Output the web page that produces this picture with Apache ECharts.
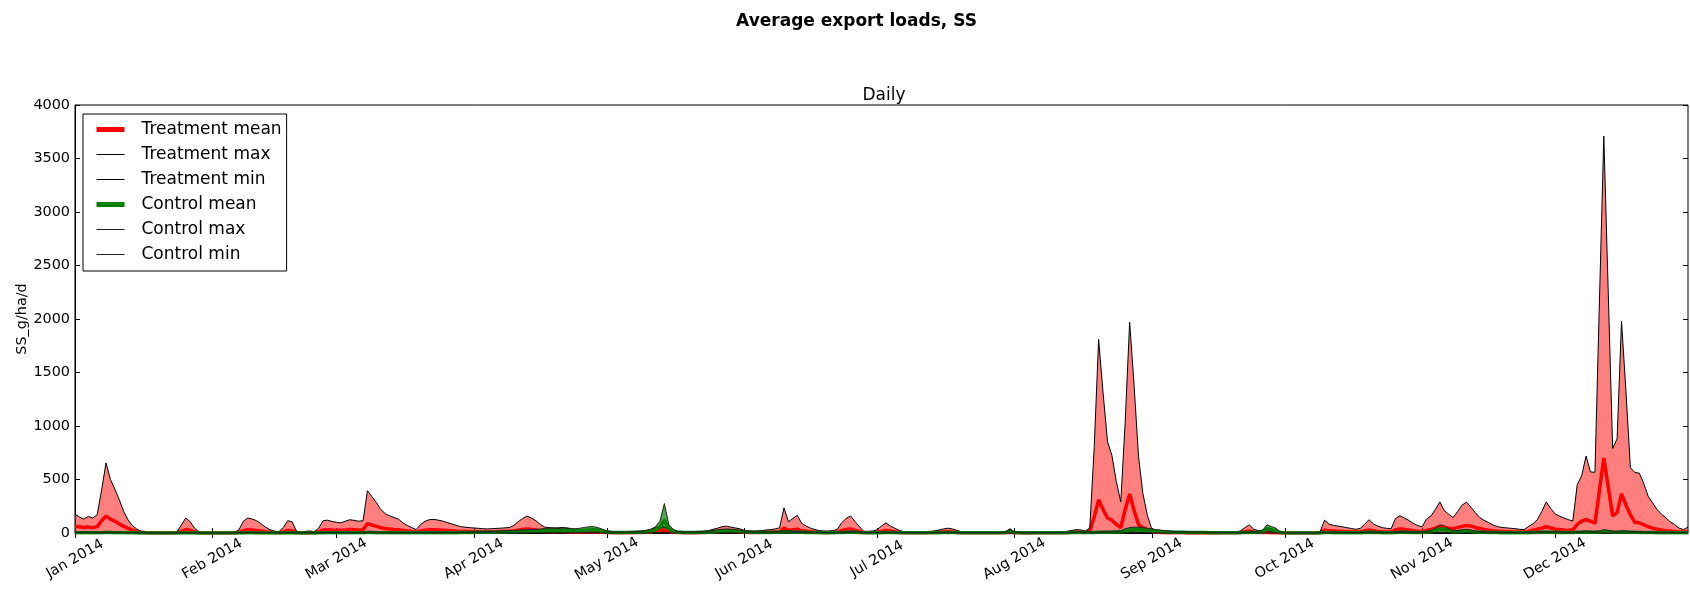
<!DOCTYPE html>
<html>
<head>
<meta charset="utf-8">
<script src="https://cdn.jsdelivr.net/npm/echarts@6.0.0/dist/echarts.min.js"></script>
<style>
  html, body { margin: 0; padding: 0; background: #fff; }
  #chart { width: 1690px; height: 589px; }
</style>
</head>
<body>
<div id="chart"></div>
<script>
// ---------------- DATA (daily values, 2014-01-01 .. 2014-12-31) ----------------
const MONTH_LABELS = ['Jan 2014','Feb 2014','Mar 2014','Apr 2014','May 2014','Jun 2014',
                      'Jul 2014','Aug 2014','Sep 2014','Oct 2014','Nov 2014','Dec 2014'];
const Y_TICKS = [0, 500, 1000, 1500, 2000, 2500, 3000, 3500, 4000];

const TMAX = [
  /*Jan*/175,150,130,155,140,170,400,655,500,410,310,200,120,68,35,15,5,2,0,0,0,0,0,10,75,140,105,45,8,0,0,
  /*Feb*/0,0,0,0,0,5,30,110,140,130,115,85,55,30,18,12,50,115,105,15,5,15,18,12,45,115,120,108,
  /*Mar*/100,95,110,124,118,110,115,395,340,285,220,181,160,145,130,95,70,50,32,80,110,125,127,120,111,98,85,72,60,54,50,
  /*Apr*/47,44,40,38,40,43,45,48,51,70,105,135,158,140,115,80,55,50,48,48,52,45,33,28,26,28,30,32,28,22,
  /*May*/15,8,6,7,9,10,12,14,18,25,35,50,60,55,35,20,12,10,10,10,11,12,15,22,35,45,58,64,55,47,40,
  /*Jun*/25,18,16,18,22,28,32,38,48,235,105,135,165,90,65,45,32,22,18,18,22,32,95,135,160,110,60,15,14,18,
  /*Jul*/30,65,95,65,45,25,12,10,9,9,10,11,14,19,28,38,45,38,24,12,9,8,7,7,6,6,6,7,8,12,40,
  /*Aug*/8,6,5,5,5,6,6,7,8,8,10,12,16,24,32,28,18,45,800,1810,1310,855,724,480,290,1045,1970,1380,715,365,165,
  /*Sep*/35,20,12,10,8,7,6,6,5,5,5,5,5,5,5,5,6,6,7,10,20,50,76,35,22,26,22,12,6,3,
  /*Oct*/2,2,2,2,2,2,3,3,15,120,82,72,65,57,50,42,35,42,80,124,85,65,50,44,39,136,161,140,118,90,70,
  /*Nov*/58,130,160,220,291,210,175,145,200,260,288,242,190,145,118,97,75,60,52,48,44,40,35,32,60,85,125,200,291,230,
  /*Dec*/178,158,140,125,112,450,535,720,570,568,2140,3710,2250,790,880,1980,1320,610,565,560,465,344,282,220,176,142,104,79,45,33,55
];

const TMEAN = [
  /*Jan*/60,58,52,55,50,60,115,158,130,110,85,62,42,26,14,6,2,1,0,0,0,0,0,3,18,32,25,10,2,0,0,
  /*Feb*/0,0,0,0,0,1,6,22,30,28,24,18,12,7,4,3,10,25,22,4,1,3,4,3,12,28,30,27,
  /*Mar*/26,25,28,32,30,28,30,88,75,62,50,42,37,33,30,24,18,13,9,20,26,30,30,28,26,23,20,17,15,14,13,
  /*Apr*/12,11,10,10,11,12,13,14,15,18,25,32,38,34,28,20,15,13,12,13,14,12,9,8,8,9,10,10,9,7,
  /*May*/5,2,2,2,2,3,3,4,5,7,10,18,30,25,12,6,4,3,3,3,3,3,4,6,10,13,16,18,15,13,11,
  /*Jun*/7,5,4,5,6,7,8,10,12,45,25,30,35,22,16,12,8,6,5,5,6,8,22,32,38,26,15,4,4,5,
  /*Jul*/7,15,24,18,12,7,3,3,2,2,3,3,4,5,7,9,11,9,6,3,2,2,2,2,2,2,2,2,2,3,8,
  /*Aug*/2,2,1,1,1,2,2,2,2,2,3,3,4,6,8,7,5,20,150,310,220,140,120,80,49,220,365,210,80,47,30,
  /*Sep*/15,8,5,3,2,2,2,2,1,1,1,1,1,1,1,1,2,2,2,3,5,12,18,8,5,6,5,3,2,1,
  /*Oct*/1,1,1,1,1,1,1,1,4,28,20,18,16,14,12,10,9,10,18,28,20,15,12,10,9,30,38,34,28,21,16,
  /*Nov*/13,25,33,45,62,55,45,40,50,62,70,65,52,42,32,25,20,16,14,12,11,10,9,9,15,25,35,45,58,48,
  /*Dec*/36,32,28,26,30,80,110,125,110,92,390,700,430,160,190,365,260,170,100,95,78,58,46,36,28,22,18,14,10,9,11
];

const TMIN = [
  /*Jan*/10,8,6,6,5,6,10,15,12,10,8,5,3,2,1,0,0,0,0,0,0,0,0,0,0,0,0,0,0,0,0,
  /*Feb*/0,0,0,0,0,0,0,0,2,2,1,1,0,0,0,0,0,1,1,0,0,0,0,0,0,1,2,2,
  /*Mar*/2,2,2,3,3,2,2,8,7,5,4,3,3,2,2,2,1,1,0,1,2,2,2,2,2,1,1,1,1,1,1,
  /*Apr*/1,1,1,1,1,1,1,1,1,1,1,2,2,2,1,1,1,1,1,1,1,1,0,0,0,1,1,1,1,0,
  /*May*/0,0,0,0,0,0,0,0,0,0,0,1,2,1,0,0,0,0,0,0,0,0,0,0,0,1,1,1,1,1,0,
  /*Jun*/0,0,0,0,0,0,0,0,0,2,1,1,1,1,0,0,0,0,0,0,0,0,1,1,1,1,0,0,0,0,
  /*Jul*/0,0,1,0,0,0,0,0,0,0,0,0,0,0,0,0,0,0,0,0,0,0,0,0,0,0,0,0,0,0,0,
  /*Aug*/0,0,0,0,0,0,0,0,0,0,0,0,0,0,0,0,0,0,5,10,8,6,6,5,4,8,12,8,5,3,1,
  /*Sep*/1,0,0,0,0,0,0,0,0,0,0,0,0,0,0,0,0,0,0,0,0,0,1,0,0,0,0,0,0,0,
  /*Oct*/0,0,0,0,0,0,0,0,0,1,1,1,1,1,1,0,0,0,0,1,1,1,0,0,0,1,1,1,1,1,1,
  /*Nov*/1,1,1,2,3,2,2,1,2,3,3,2,2,1,1,1,1,0,0,0,0,0,0,0,0,1,1,2,3,2,
  /*Dec*/2,2,1,1,1,5,6,8,6,5,15,25,15,8,8,12,8,5,4,4,3,2,2,1,1,1,1,0,0,0,0
];

const CMAX = [
  /*Jan*/8,8,7,7,6,6,8,10,9,8,7,6,5,4,3,2,2,1,1,1,1,1,1,1,2,3,3,2,1,1,1,
  /*Feb*/1,1,1,1,1,1,2,3,4,4,3,3,2,2,2,2,3,3,3,2,2,2,2,2,3,4,4,4,
  /*Mar*/4,4,4,5,5,5,5,10,9,8,7,6,6,5,5,5,4,4,4,5,6,6,6,6,6,6,6,7,8,9,10,
  /*Apr*/11,12,13,14,15,16,18,20,22,24,26,28,30,32,34,38,42,45,44,42,45,48,42,40,45,52,58,60,50,36,
  /*May*/20,12,9,8,9,10,12,15,18,25,35,60,110,275,80,35,15,12,11,11,12,13,15,18,24,30,35,38,36,32,26,
  /*Jun*/20,18,15,12,10,10,11,12,14,20,18,16,15,13,11,9,8,7,6,6,7,8,10,12,14,12,9,7,6,6,
  /*Jul*/6,7,8,8,7,6,5,5,5,5,5,5,5,6,7,8,9,8,7,6,5,5,5,5,5,5,5,5,6,10,35,
  /*Aug*/8,6,5,5,5,5,5,5,5,5,6,6,7,8,9,9,9,10,10,12,14,15,16,18,20,40,50,55,55,50,45,
  /*Sep*/38,32,27,22,18,15,13,12,11,10,9,8,8,7,7,6,6,6,6,6,6,8,10,12,15,25,76,60,45,10,
  /*Oct*/3,2,2,2,2,2,2,2,3,8,8,7,7,6,6,5,5,5,8,12,10,8,7,6,6,10,14,12,11,10,9,
  /*Nov*/10,14,25,45,75,70,40,20,22,30,35,28,20,15,12,10,9,8,7,6,6,5,5,5,6,8,10,14,16,14,
  /*Dec*/12,10,9,8,8,12,15,18,16,14,20,30,25,18,16,20,18,14,12,11,10,9,8,7,6,6,5,5,5,5,5
];

const CMEAN = [
  /*Jan*/3,3,3,3,2,2,3,4,4,3,3,2,2,2,1,1,1,0,0,0,0,0,0,0,1,1,1,1,0,0,0,
  /*Feb*/0,0,0,0,0,0,1,1,2,2,1,1,1,1,1,1,1,1,1,1,1,1,1,1,1,2,2,2,
  /*Mar*/2,2,2,2,2,2,2,4,4,3,3,3,3,2,2,2,2,2,2,2,3,3,3,3,3,3,3,3,4,4,5,
  /*Apr*/5,6,6,7,7,8,9,10,11,12,13,14,15,16,17,19,21,22,22,21,22,24,21,20,22,26,29,30,25,18,
  /*May*/10,6,4,4,4,5,6,7,9,12,17,30,55,120,40,17,8,6,5,5,5,6,6,7,10,14,17,19,18,16,13,
  /*Jun*/10,9,7,6,5,5,5,6,7,10,9,8,7,6,5,4,4,3,3,3,3,4,5,6,7,6,4,3,3,3,
  /*Jul*/3,3,4,4,3,3,2,2,2,2,2,2,2,3,3,4,4,4,3,3,2,2,2,2,2,2,2,2,3,5,15,
  /*Aug*/4,3,2,2,2,2,2,2,2,2,3,3,3,4,4,4,4,5,5,6,7,7,8,9,10,20,28,32,32,28,25,
  /*Sep*/20,16,13,11,9,7,6,6,5,5,4,4,4,3,3,3,3,3,3,3,3,4,5,6,7,12,40,30,20,5,
  /*Oct*/1,1,1,1,1,1,1,1,1,4,4,3,3,3,3,2,2,2,4,6,5,4,3,3,3,5,7,6,5,5,4,
  /*Nov*/5,7,12,22,38,35,20,10,11,15,18,14,10,7,6,5,4,4,3,3,3,2,2,2,3,4,5,7,8,7,
  /*Dec*/6,5,4,4,4,6,7,9,8,7,10,15,12,9,8,10,9,7,6,5,5,4,4,3,3,3,2,2,2,2,2
];

const CMIN = [
  /*Jan*/1,1,1,1,1,1,1,1,1,1,1,1,0,0,0,0,0,0,0,0,0,0,0,0,0,0,0,0,0,0,0,
  /*Feb*/0,0,0,0,0,0,0,0,0,0,0,0,0,0,0,0,0,0,0,0,0,0,0,0,0,0,0,0,
  /*Mar*/0,0,0,0,0,0,0,1,1,0,0,0,0,0,0,0,0,0,0,0,0,0,0,0,0,0,0,0,0,0,0,
  /*Apr*/0,0,0,0,0,0,1,1,1,1,1,1,1,1,1,2,2,2,2,2,2,2,2,2,2,2,3,3,2,1,
  /*May*/1,0,0,0,0,0,0,0,0,1,1,2,4,8,3,1,0,0,0,0,0,0,0,0,1,1,1,1,1,1,1,
  /*Jun*/1,0,0,0,0,0,0,0,0,0,0,0,0,0,0,0,0,0,0,0,0,0,0,0,0,0,0,0,0,0,
  /*Jul*/0,0,0,0,0,0,0,0,0,0,0,0,0,0,0,0,0,0,0,0,0,0,0,0,0,0,0,0,0,0,1,
  /*Aug*/0,0,0,0,0,0,0,0,0,0,0,0,0,0,0,0,0,0,0,0,0,0,0,0,0,1,2,2,2,1,1,
  /*Sep*/1,1,1,0,0,0,0,0,0,0,0,0,0,0,0,0,0,0,0,0,0,0,0,0,0,1,3,2,1,0,
  /*Oct*/0,0,0,0,0,0,0,0,0,0,0,0,0,0,0,0,0,0,0,0,0,0,0,0,0,0,0,0,0,0,0,
  /*Nov*/0,0,0,1,2,2,1,0,0,0,0,0,0,0,0,0,0,0,0,0,0,0,0,0,0,0,0,0,0,0,
  /*Dec*/0,0,0,0,0,0,0,0,0,0,1,1,1,0,0,0,0,0,0,0,0,0,0,0,0,0,0,0,0,0,0
];

// ---------------- categories (calendar days) ----------------
const DAYS = [];
for (let i = 0; i < 365; i++) {
  const d = new Date(Date.UTC(2014, 0, 1 + i));
  DAYS.push(d.toISOString().slice(0, 10));
}

// band heights for the shaded ranges (max - min), stacked on min
const T_BAND = TMAX.map((v, i) => Math.max(0, v - TMIN[i]));
const C_BAND = CMAX.map((v, i) => Math.max(0, v - CMIN[i]));

const isMonthStart = (i, v) => (typeof v === 'string' ? v : DAYS[i]).slice(8, 10) === '01';
const FONT = 'DejaVu Sans';

const chart = echarts.init(document.getElementById('chart'), null, { renderer: 'canvas' });

const lineBase = { type: 'line', symbol: 'none', showSymbol: false, smooth: false, animation: false, clip: true };

chart.setOption({
  animation: false,
  backgroundColor: '#ffffff',
  textStyle: { fontFamily: FONT },
  title: [
    { text: 'Average export loads, SS', left: 851.5, top: 8, textAlign: 'center',
      textStyle: { fontFamily: FONT, fontSize: 17, fontWeight: 'bold', color: '#000' } },
    { text: 'Daily', left: 879, top: 82, textAlign: 'center',
      textStyle: { fontFamily: FONT, fontSize: 17, fontWeight: 'normal', color: '#000' } }
  ],
  legend: {
    orient: 'vertical', left: 83, top: 114,
    padding: [7, 5, 8, 11], itemWidth: 28, itemHeight: 14, itemGap: 8,
    borderColor: '#000', borderWidth: 1, borderRadius: 0, backgroundColor: '#fff',
    selectedMode: false,
    itemStyle: { opacity: 0 },
    lineStyle: { width: 1 },
    textStyle: { fontFamily: FONT, fontSize: 17, color: '#000', padding: [0, 0, 0, 12] },
    data: [
      { name: 'Treatment mean', lineStyle: { width: 5 } },
      { name: 'Treatment max' },
      { name: 'Treatment min' },
      { name: 'Control mean', lineStyle: { width: 5 } },
      { name: 'Control max' },
      { name: 'Control min' }
    ]
  },
  grid: { left: 75, right: 2, top: 105, bottom: 56, show: true, borderColor: '#000', borderWidth: 1, containLabel: false },
  xAxis: [
    { type: 'category', data: DAYS, boundaryGap: false, position: 'bottom',
      axisLine: { show: true, lineStyle: { color: '#000', width: 1 } },
      axisTick: { show: true, inside: true, length: 5, interval: isMonthStart, lineStyle: { color: '#000' } },
      axisLabel: { show: true, interval: isMonthStart, rotate: 30, align: 'center', verticalAlign: 'middle', margin: 26,
        fontFamily: FONT, fontSize: 14.4, color: '#000',
        formatter: (v) => MONTH_LABELS[parseInt(v.slice(5, 7), 10) - 1] },
      splitLine: { show: false } },
    { type: 'category', data: DAYS, boundaryGap: false, position: 'top',
      axisLine: { show: false },
      axisTick: { show: true, inside: true, length: 5, interval: isMonthStart, lineStyle: { color: '#000' } },
      axisLabel: { show: false }, splitLine: { show: false } }
  ],
  yAxis: [
    { type: 'value', min: Y_TICKS[0], max: Y_TICKS[Y_TICKS.length - 1], interval: 500, position: 'left',
      name: 'SS_g/ha/d', nameLocation: 'middle', nameGap: 46, nameMoveOverlap: false,
      nameTextStyle: { fontFamily: FONT, fontSize: 14.4, color: '#000' },
      axisLine: { show: true, lineStyle: { color: '#000' } },
      axisTick: { show: true, inside: true, length: 5, lineStyle: { color: '#000' } },
      axisLabel: { fontFamily: FONT, fontSize: 14.4, color: '#000', margin: 5, formatter: (v) => String(v) },
      splitLine: { show: false } },
    { type: 'value', min: Y_TICKS[0], max: Y_TICKS[Y_TICKS.length - 1], interval: 500, position: 'right',
      axisLine: { show: false },
      axisTick: { show: true, inside: true, length: 5, lineStyle: { color: '#000' } },
      axisLabel: { show: false }, splitLine: { show: false } }
  ],
  series: [
    Object.assign({}, lineBase, { name: '_tbase', data: TMIN, stack: 'treat', silent: true, z: 1,
      lineStyle: { width: 0, opacity: 0 }, itemStyle: { color: '#ff0000' } }),
    Object.assign({}, lineBase, { name: '_tband', data: T_BAND, stack: 'treat', silent: true, z: 1,
      lineStyle: { width: 0, opacity: 0 }, itemStyle: { color: '#ff0000' },
      areaStyle: { color: '#ff0000', opacity: 0.5 } }),
    Object.assign({}, lineBase, { name: '_cbase', data: CMIN, stack: 'ctrl', silent: true, z: 1,
      lineStyle: { width: 0, opacity: 0 }, itemStyle: { color: '#008000' } }),
    Object.assign({}, lineBase, { name: '_cband', data: C_BAND, stack: 'ctrl', silent: true, z: 1,
      lineStyle: { width: 0, opacity: 0 }, itemStyle: { color: '#008000' },
      areaStyle: { color: '#008000', opacity: 0.7 } }),
    Object.assign({}, lineBase, { name: 'Treatment mean', data: TMEAN, z: 3,
      lineStyle: { color: '#ff0000', width: 3.5 }, itemStyle: { color: '#ff0000' } }),
    Object.assign({}, lineBase, { name: 'Treatment max', data: TMAX, z: 3,
      lineStyle: { color: '#000000', width: 1 }, itemStyle: { color: '#000000' } }),
    Object.assign({}, lineBase, { name: 'Treatment min', data: TMIN, z: 3,
      lineStyle: { color: '#000000', width: 1 }, itemStyle: { color: '#000000' } }),
    Object.assign({}, lineBase, { name: 'Control mean', data: CMEAN, z: 3,
      lineStyle: { color: '#008000', width: 3.5 }, itemStyle: { color: '#008000' } }),
    Object.assign({}, lineBase, { name: 'Control max', data: CMAX, z: 3,
      lineStyle: { color: '#222222', width: 1 }, itemStyle: { color: '#222222' } }),
    Object.assign({}, lineBase, { name: 'Control min', data: CMIN, z: 3,
      lineStyle: { color: '#222222', width: 1 }, itemStyle: { color: '#222222' } })
  ]
});
</script>
</body>
</html>
